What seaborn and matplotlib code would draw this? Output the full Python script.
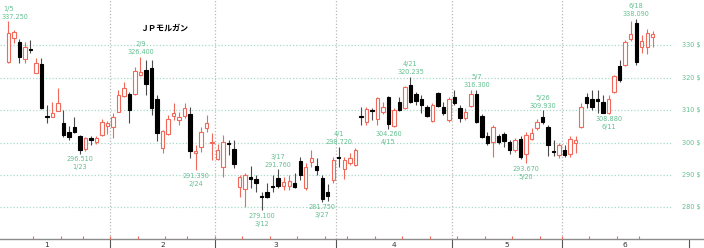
import numpy as np
import pandas as pd
import matplotlib
matplotlib.use("Agg")
import matplotlib.pyplot as plt
import seaborn as sns

# ---------------- data ----------------
title = "ＪＰモルガン"
first_day, last_day = "2026-01-05", "2026-06-24"
market_holidays = ["2026-01-19", "2026-02-16", "2026-04-03", "2026-05-25", "2026-06-19"]

opens = [324.9, 332.1, 331.0, 325.6, 328.9, 321.5, 324.2, 308.1, 308.0, 309.8,
         306.1, 303.3, 304.7, 302.1, 297.9, 301.3, 300.3, 302.2, 305.0,
         304.9, 309.5, 314.3, 314.9, 314.9, 320.8, 322.3, 322.8, 313.3, 298.2,
         302.6, 308.3, 307.0, 308.2, 308.8, 296.8, 298.5, 304.4, 300.0,
         294.8, 292.4, 300.0, 297.9, 286.4, 285.6, 289.5, 288.8, 283.6, 284.7,
         286.5, 289.0, 286.6, 286.7, 287.4, 294.3, 285.9, 294.1, 292.8, 289.0,
         284.9, 288.5,
         295.5, 291.7, 293.8, 293.1, 308.2, 306.4, 310.0, 307.1, 309.5, 313.9,
         305.1, 312.6, 310.5, 317.7, 314.9, 313.3, 311.0, 306.6, 315.1, 311.0,
         306.9,
         313.9, 310.5, 307.4, 311.3, 314.9, 308.2, 302.0, 300.2, 302.0, 302.5,
         300.1, 297.7, 301.0, 296.5, 301.0, 304.4, 308.0, 304.9, 297.4, 296.2,
         297.7, 296.5, 299.9, 304.9, 314.1, 313.3, 313.4, 312.4, 309.0, 315.6,
         323.5, 323.8, 331.7, 336.7, 329.5, 329.5, 332.6]
highs = [337.25, 334.6, 331.7, 331.0, 331.5, 325.9, 325.9, 311.5, 312.6, 316.7,
         310.0, 305.1, 307.9, 302.4, 301.6, 302.1, 302.0, 307.1, 306.5,
         309.0, 316.2, 318.7, 315.5, 323.3, 326.4, 325.4, 325.3, 314.6, 304.0,
         308.5, 312.1, 309.5, 312.1, 311.0, 299.2, 304.9, 308.5, 302.8,
         299.5, 302.3, 300.8, 300.8, 290.0, 290.5, 292.8, 290.0, 284.9, 287.4,
         290.0, 291.76, 289.5, 290.0, 290.5, 295.6, 293.6, 297.7, 295.1, 290.0,
         287.2, 295.6,
         298.72, 295.6, 296.7, 298.2, 311.0, 311.0, 310.5, 313.9, 312.6, 314.2,
         310.5, 314.1, 317.4, 320.235, 315.4, 314.6, 311.5, 312.3, 315.4, 312.6,
         313.9,
         316.2, 311.5, 310.5, 316.2, 316.3, 308.8, 303.3, 305.4, 302.6, 303.3,
         300.8, 301.3, 302.0, 303.3, 304.4, 307.1, 309.93, 305.4, 300.8, 299.7,
         299.2, 302.0, 302.0, 312.3, 315.1, 316.2, 316.2, 314.6, 314.6, 320.9,
         325.4, 331.4, 337.5, 338.09, 333.1, 334.8, 334.4]
lows = [324.5, 330.5, 324.4, 324.6, 327.4, 321.3, 310.3, 305.9, 307.8, 309.6,
        301.8, 300.8, 303.0, 296.51, 297.5, 299.2, 299.5, 302.0, 302.5,
        301.3, 309.3, 314.0, 305.9, 314.6, 320.6, 314.6, 308.5, 300.5, 296.7,
        302.3, 306.9, 305.4, 307.4, 295.1, 291.39, 297.2, 303.3, 294.6,
        294.5, 289.5, 296.2, 292.1, 283.3, 280.2, 285.9, 284.9, 279.1, 282.8,
        284.9, 286.0, 285.4, 285.4, 285.9, 288.5, 285.4, 292.6, 290.0, 281.75,
        282.1, 287.4,
        292.6, 288.7, 293.2, 292.8, 305.4, 305.4, 306.9, 305.4, 308.8, 304.26,
        304.8, 309.7, 310.2, 312.3, 311.5, 309.0, 307.9, 306.3, 310.9, 308.5,
        306.3,
        311.5, 306.4, 306.9, 311.0, 305.9, 301.3, 299.2, 295.6, 299.5, 298.7,
        296.4, 297.2, 294.8, 293.67, 300.7, 303.8, 305.6, 295.8, 295.8, 295.1,
        295.5, 295.6, 296.7, 304.4, 310.5, 310.0, 309.0, 309.0, 308.88, 315.1,
        318.5, 323.5, 331.3, 323.8, 327.4, 327.2, 329.5]
closes = [333.8, 334.1, 326.4, 329.5, 328.6, 324.6, 310.5, 307.9, 309.0, 312.3,
          302.3, 301.6, 303.3, 297.7, 301.3, 300.8, 301.3, 306.4, 306.0,
          307.9, 314.6, 316.9, 310.0, 322.1, 321.8, 318.0, 310.6, 302.8, 303.5,
          307.1, 309.0, 308.0, 310.5, 297.5, 297.4, 303.3, 306.1, 300.3,
          297.7, 300.2, 299.6, 293.4, 289.5, 290.0, 288.8, 287.4, 283.1, 283.3,
          286.2, 286.6, 287.8, 288.2, 286.4, 290.0, 292.4, 295.3, 291.5, 282.5,
          283.5, 294.6,
          295.2, 294.6, 295.3, 297.7, 307.9, 310.2, 309.7, 313.6, 311.0, 305.6,
          310.0, 310.0, 317.0, 312.6, 312.9, 311.5, 308.2, 311.5, 311.2, 309.0,
          313.3,
          312.1, 307.4, 309.5, 314.8, 306.2, 301.8, 299.9, 304.9, 300.2, 300.5,
          297.7, 300.8, 295.6, 302.3, 303.0, 306.4, 306.4, 299.2, 297.0, 299.2,
          296.2, 301.0, 300.8, 310.8, 312.3, 311.0, 312.8, 309.2, 313.3, 320.5,
          319.2, 331.0, 333.3, 324.9, 331.3, 333.8, 333.3]

ann_dates = ["1/5", "2/9", "1/23", "2/24", "3/12", "3/17", "3/27", "4/1",
             "4/15", "4/21", "5/7", "5/20", "5/26", "6/11", "6/18"]
ann_kinds = ["H", "H", "L", "L", "L", "H", "L", "H",
             "L", "H", "H", "L", "H", "L", "H"]
ann_values = [337.25, 326.4, 296.51, 291.39, 279.1, 291.76, 281.75, 298.72,
              304.26, 320.235, 316.3, 293.67, 309.93, 308.88, 338.09]

price_ticks = [280, 290, 300, 310, 320, 330]
month_labels = ["1", "2", "3", "4", "5", "6"]

# ---------------- build table ----------------
dates = pd.bdate_range(first_day, last_day)
dates = dates[~dates.isin(pd.to_datetime(market_holidays))]
df = pd.DataFrame({"date": dates, "open": opens, "high": highs,
                   "low": lows, "close": closes})
df["pos"] = np.arange(len(df))
df["up"] = df["close"] >= df["open"]
df["label"] = df["date"].dt.month.astype(str) + "/" + df["date"].dt.day.astype(str)

# ---------------- style ----------------
RED = "#f0695a"
GREEN = "#64bf90"
GRID = "#a6dccb"
VGRID = "#b9b9b9"

sns.set_theme(style="white")
plt.rcParams["font.family"] = ["DejaVu Sans"]

W, H = 704, 248
fig = plt.figure(figsize=(W / 100, H / 100), dpi=100)
bottom_px = 9.5
ax = fig.add_axes([0, bottom_px / H, 1, (H - bottom_px) / H])

x0_px, step_px = 8.3, 5.508
XLIM = ((0 - x0_px) / step_px, (W - x0_px) / step_px)
YLIM = (270.46, 343.85)
ax.set_xlim(*XLIM)
ax.set_ylim(*YLIM)

# month boundaries from the dates
mon = df["date"].dt.month.values
inner_bounds = [p - 0.5 for p in df["pos"][1:][mon[1:] != mon[:-1]]]
all_bounds = [-4.5] + inner_bounds + [123.5]
centers = [(a + b) / 2 for a, b in zip(all_bounds[:-1], all_bounds[1:])]

# grid
grid_right = (672 - x0_px) / step_px
ax.hlines(price_ticks, XLIM[0], grid_right, colors=GRID,
          linestyles=(0, (1, 1.6)), lw=0.9, zorder=1)
ax.vlines(inner_bounds, *YLIM, colors=VGRID,
          linestyles=(0, (1, 1.6)), lw=0.9, zorder=1)

# candles
wick_cols = [RED if u else "#4a4a4a" for u in df["up"]]
ax.vlines(df["pos"], df["low"], df["high"], colors=wick_cols, lw=0.8, zorder=2)
body_bot = np.minimum(df["open"], df["close"])
body_h = np.maximum((df["close"] - df["open"]).abs(), 0.3)
faces = ["white" if u else "black" for u in df["up"]]
edges = [RED if u else "black" for u in df["up"]]
ax.bar(df["pos"], body_h, bottom=body_bot, width=0.62, color=faces,
       edgecolor=edges, linewidth=0.8, zorder=3)

# annotations (kept inside the picture near the left edge)
num_font = dict(family="DejaVu Sans", fontstretch="condensed", fontsize=5.2, color=GREEN)
fig.canvas.draw()
renderer = fig.canvas.get_renderer()
for lab, kind, val in zip(ann_dates, ann_kinds, ann_values):
    pos = int(df.loc[df["label"] == lab, "pos"].iloc[0])
    vtxt = f"{val:.3f}"
    if kind == "H":
        offs = [(vtxt, 4.5), (lab, 12.5)]
    else:
        offs = [(vtxt, -5.5), (lab, -13.5)]
    for txt, dy in offs:
        t = ax.annotate(txt, xy=(pos, val), xytext=(0, dy * 0.72),
                        textcoords="offset points", ha="center", va="center",
                        zorder=5, annotation_clip=False, **num_font)
        bb = t.get_window_extent(renderer)
        if bb.x0 < 1:
            t.set_position((( 1 - bb.x0) * 0.72, dy * 0.72))

# right price labels
ytr = ax.get_yaxis_transform()
for p in price_ticks:
    ax.text(682 / W, p, f"{p} $", transform=ytr, ha="left", va="center", **num_font)

# axes cosmetics
sns.despine(ax=ax, left=True, top=True, right=True)
ax.spines["bottom"].set_color("#8c8c8c")
ax.spines["bottom"].set_linewidth(1.0)
ax.set_yticks([])
ax.set_xticks(all_bounds)
ax.tick_params(axis="x", which="major", length=6.5, width=0.8, color="#555555",
               direction="out", labelbottom=False, bottom=True)
# set_xticks may widen the view: restore the limits
ax.set_xlim(*XLIM)
ax.set_ylim(*YLIM)

# weekly red marks on the axis
week_start = [p - 0.5 for p, d, pd_ in zip(df["pos"][1:], df["date"][1:], df["date"][:-1])
              if d.weekday() < pd_.weekday()]
ax.vlines(week_start, 0, 0.01, transform=ax.get_xaxis_transform(),
          colors=RED, lw=0.8, zorder=4, clip_on=False)

xtr = ax.get_xaxis_transform()
for c, m in zip(centers, month_labels):
    ax.text(c, -6.5 / (H - bottom_px), m, transform=xtr, ha="center", va="center",
            fontsize=5.4, color="#333333", clip_on=False)

fig.text(140 / W, 1 - 28 / H, title, family=["Noto Sans CJK JP", "DejaVu Sans"],
         fontweight="bold", fontsize=5.8, ha="left", va="center", color="black")

fig.savefig("out.png", dpi=100)
